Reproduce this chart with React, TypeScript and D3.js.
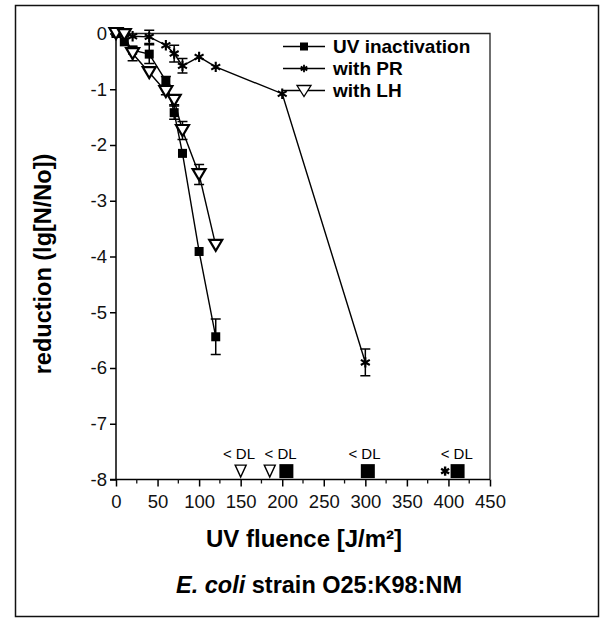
import React, { useRef, useEffect } from "react";
import * as d3 from "d3";

// UV inactivation (squares)
const uvFluence = [0, 10, 20, 40, 60, 70, 80, 100, 120];
const uvMean = [0, -0.15, -0.3, -0.37, -0.85, -1.42, -2.15, -3.91, -5.44];
const uvErr = [0.02, 0.04, 0.05, 0.17, 0.08, 0.12, 0.05, 0.04, 0.32];

// with PR (stars)
const prFluence = [0, 10, 20, 40, 60, 70, 80, 100, 120, 200, 300];
const prMean = [0, -0.02, -0.05, -0.06, -0.21, -0.36, -0.58, -0.42, -0.6, -1.08, -5.9];
const prErr = [0, 0, 0.03, 0.12, 0.05, 0.15, 0.13, 0.04, 0.03, 0.03, 0.24];

// with LH (open triangles)
const lhFluence = [0, 10, 20, 40, 60, 70, 80, 100, 120];
const lhMean = [0, -0.02, -0.36, -0.7, -1.04, -1.2, -1.74, -2.53, -3.8];
const lhErr = [0, 0.03, 0.13, 0.05, 0.06, 0.08, 0.16, 0.18, 0.03];

// below detection limit
const dlSeries = ["LH", "LH", "UV", "UV", "PR", "UV"];
const dlFluence = [150, 185, 205, 303, 396, 411];
const dlValue = -7.85;
const dlLabelAt = [148, 198, 299, 410];

const xTicks = [0, 50, 100, 150, 200, 250, 300, 350, 400, 450];
const yTicks = [0, -1, -2, -3, -4, -5, -6, -7, -8];

const legendNames = ["UV inactivation", "with PR", "with LH"];
const legendKeys = ["UV", "PR", "LH"];

const FONT = "'Liberation Sans', Arial, sans-serif";

const App: React.FC = () => {
  const ref = useRef<SVGSVGElement | null>(null);

  useEffect(() => {
    const svg = d3.select(ref.current);
    svg.selectAll("*").remove();

    const x = d3.scaleLinear().domain([0, 450]).range([116, 490]);
    const y = d3.scaleLinear().domain([0, -8]).range([33.5, 479.5]);

    // outer frame
    svg.append("rect")
      .attr("x", 15.5).attr("y", 5.5)
      .attr("width", 583).attr("height", 611)
      .attr("fill", "none").attr("stroke", "#111").attr("stroke-width", 1.5);

    // plot frame (top + right)
    svg.append("path")
      .attr("d", `M${x(0)},${y(0)}H${x(450)}V${y(-8)}`)
      .attr("fill", "none").attr("stroke", "#222").attr("stroke-width", 1.3);

    // x axis
    const xAxis = svg.append("g")
      .attr("transform", `translate(0,${y(-8)})`)
      .call(d3.axisBottom(x).tickValues(xTicks).tickSize(7).tickFormat(d => String(d)));
    xAxis.select(".domain").attr("stroke-width", 1.5).attr("d", `M${x(0) - 6},0H${x(450)}`);
    xAxis.selectAll(".tick line").attr("stroke-width", 1.5);
    xAxis.selectAll(".tick text")
      .attr("font-family", FONT).attr("font-size", 18.5).attr("dy", "1.0em").attr("fill", "#111");
    const minor = d3.range(25, 450, 50);
    xAxis.selectAll(".minor").data(minor).enter().append("line")
      .attr("x1", d => x(d)).attr("x2", d => x(d))
      .attr("y1", 0).attr("y2", 4).attr("stroke", "#111").attr("stroke-width", 1.3);

    // y axis
    const yAxis = svg.append("g")
      .attr("transform", `translate(${x(0)},0)`)
      .call(d3.axisLeft(y).tickValues(yTicks).tickSize(6).tickFormat(d => String(d)));
    yAxis.select(".domain").attr("stroke-width", 1.5).attr("d", `M0,${y(0)}V${y(-8)}`);
    yAxis.selectAll(".tick line").attr("stroke-width", 1.5);
    yAxis.selectAll(".tick text")
      .attr("font-family", FONT).attr("font-size", 18.5).attr("x", -9).attr("fill", "#111");

    // titles
    svg.append("text")
      .attr("transform", `translate(51,264) rotate(-90)`)
      .attr("text-anchor", "middle")
      .attr("font-family", FONT).attr("font-size", 23.5).attr("font-weight", "bold")
      .text("reduction (lg[N/No])");

    svg.append("text")
      .attr("x", 304).attr("y", 547)
      .attr("text-anchor", "middle")
      .attr("font-family", FONT).attr("font-size", 24).attr("font-weight", "bold")
      .text("UV fluence [J/m²]");

    const cap = svg.append("text")
      .attr("x", 319).attr("y", 593)
      .attr("text-anchor", "middle")
      .attr("font-family", FONT).attr("font-size", 23.5).attr("font-weight", "bold");
    cap.append("tspan").attr("font-style", "italic").text("E. coli");
    cap.append("tspan").text(" strain O25:K98:NM");

    const line = d3.line<[number, number]>().x(d => x(d[0])).y(d => y(d[1]));
    const pairs = (xs: number[], ys: number[]) => xs.map((v, i) => [v, ys[i]] as [number, number]);

    const series = [
      { key: "UV", xs: uvFluence, ys: uvMean, es: uvErr },
      { key: "PR", xs: prFluence, ys: prMean, es: prErr },
      { key: "LH", xs: lhFluence, ys: lhMean, es: lhErr },
    ];

    const star = d3.symbol().type(d3.symbolAsterisk);

    const drawMarker = (g: any, key: string, cx: number, cy: number, big = false) => {
      if (key === "UV") {
        const s = big ? 14 : 9;
        g.append("rect").attr("x", cx - s / 2).attr("y", cy - s / 2)
          .attr("width", s).attr("height", s).attr("fill", "#000");
      } else if (key === "PR") {
        g.append("path").attr("d", star.size(big ? 60 : 75)())
          .attr("transform", `translate(${cx},${cy})`)
          .attr("fill", "none").attr("stroke", "#000").attr("stroke-width", big ? 2.4 : 2.1);
      } else {
        const w = big ? 5.5 : 6.5;
        const h = big ? 6 : 5.5;
        g.append("path")
          .attr("d", `M${cx - w},${cy - h}L${cx + w},${cy - h}L${cx},${cy + h}Z`)
          .attr("fill", "#fff").attr("stroke", "#000").attr("stroke-width", big ? 1.4 : 2.2);
      }
    };

    const gData = svg.append("g");
    series.forEach(s => {
      gData.append("path")
        .attr("d", line(pairs(s.xs, s.ys))!)
        .attr("fill", "none").attr("stroke", "#000").attr("stroke-width", 1.4);
    });
    series.forEach(s => {
      s.xs.forEach((v, i) => {
        const e = s.es[i];
        if (e < 0.06) return;
        const cx = x(v);
        const y1 = y(s.ys[i] + e);
        const y2 = y(s.ys[i] - e);
        gData.append("path")
          .attr("d", `M${cx},${y1}V${y2}M${cx - 5},${y1}H${cx + 5}M${cx - 5},${y2}H${cx + 5}`)
          .attr("fill", "none").attr("stroke", "#000").attr("stroke-width", 1.5);
      });
    });
    series.forEach(s => {
      s.xs.forEach((v, i) => drawMarker(gData, s.key, x(v), y(s.ys[i])));
    });

    // detection limit markers
    dlFluence.forEach((v, i) => drawMarker(gData, dlSeries[i], x(v), y(dlValue), true));
    svg.append("g").selectAll("text").data(dlLabelAt).enter().append("text")
      .attr("x", d => x(d)).attr("y", 459)
      .attr("text-anchor", "middle")
      .attr("font-family", FONT).attr("font-size", 15)
      .text("< DL");

    // legend
    const leg = svg.append("g");
    const legY = [46.5, 68.5, 90.5];
    legendKeys.forEach((k, i) => {
      leg.append("line").attr("x1", 283).attr("x2", 325)
        .attr("y1", legY[i]).attr("y2", legY[i])
        .attr("stroke", "#000").attr("stroke-width", 1.4);
      if (k === "UV") {
        leg.append("rect").attr("x", 300).attr("y", legY[i] - 4).attr("width", 8).attr("height", 8);
      } else if (k === "PR") {
        leg.append("path").attr("d", star.size(40)()).attr("transform", `translate(304,${legY[i]})`)
          .attr("fill", "none").attr("stroke", "#000").attr("stroke-width", 1.8);
      } else {
        leg.append("path").attr("d", `M297,${legY[i] - 5}L311,${legY[i] - 5}L304,${legY[i] + 6}Z`)
          .attr("fill", "#fff").attr("stroke", "#000").attr("stroke-width", 1.3);
      }
      leg.append("text").attr("x", 333).attr("y", legY[i]).attr("dy", "0.36em")
        .attr("font-family", FONT).attr("font-size", 19).attr("font-weight", "bold")
        .text(legendNames[i]);
    });
  }, []);

  return (
    <svg ref={ref} width={603} height={618}
      style={{ position: "absolute", left: 0, top: 0, background: "#fff" }} />
  );
};

export default App;
